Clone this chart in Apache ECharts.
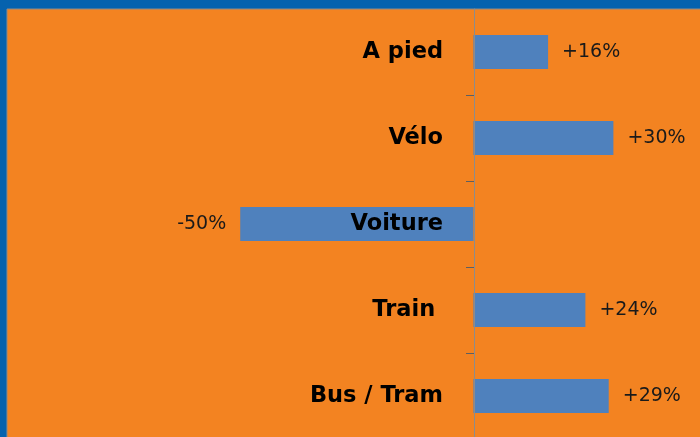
<!DOCTYPE html>
<html>
<head>
<meta charset="utf-8">
<script src="https://cdn.jsdelivr.net/npm/echarts@6/dist/echarts.min.js"></script>
<style>
    html, body { margin: 0; padding: 0; }
    #barCont { width: 700px; height: 437px; }
</style>
</head>
<body>
<div id="barCont"></div>
<script>
var modes = ['A pied', 'Vélo', 'Voiture', 'Train ', 'Bus / Tram'];
var changes = [16, 30, -50, 24, 29];

window.onload = function() {
    setBar();
};

function setBar() {
    var ec = echarts.init(document.getElementById('barCont'));
    var data = changes.map(function(v) {
        return {
            value: v,
            label: { position: v < 0 ? 'left' : 'right' }
        };
    });
    ec.setOption({
        backgroundColor: '#0562AE',
        animation: false,
        grid: {
            show: true,
            left: 7,
            top: 9,
            right: -2,
            bottom: -2,
            containLabel: false,
            outerBoundsMode: 'none',
            backgroundColor: '#F38321',
            borderColor: '#8a8a8a',
            borderWidth: 1
        },
        xAxis: {
            type: 'value',
            min: -100,
            max: 49,
            show: false
        },
        yAxis: {
            type: 'category',
            data: modes,
            inverse: true,
            position: 'left',
            offset: -467,
            z: 5,
            axisLine: {
                onZero: false,
                lineStyle: { color: '#8c8c8c', width: 1 }
            },
            axisTick: {
                show: true,
                alignWithLabel: false,
                interval: function(i) {
                    return i !== 0;
                },
                length: 8,
                lineStyle: { color: '#5f5f5f', width: 1 }
            },
            axisLabel: {
                margin: 31,
                color: '#000',
                fontSize: 22.5,
                fontWeight: 'bold',
                fontFamily: 'DejaVu Sans'
            }
        },
        series: [{
            type: 'bar',
            barWidth: 34,
            itemStyle: { color: '#4F81BD' },
            label: {
                show: true,
                distance: 14,
                color: '#1a1a1a',
                fontSize: 19,
                fontFamily: 'DejaVu Sans',
                formatter: function(p) {
                    return (p.value > 0 ? '+' : '') + p.value + '%';
                }
            },
            data: data
        }]
    });
}
</script>
</body>
</html>
